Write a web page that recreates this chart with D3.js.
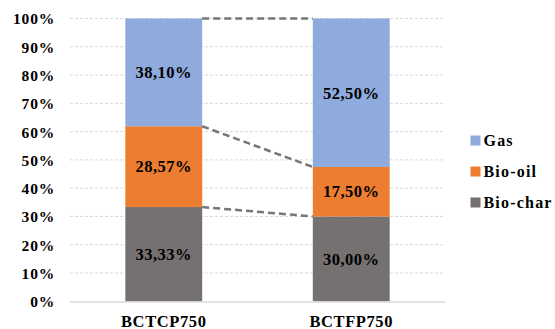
<!DOCTYPE html>
<html><head><meta charset="utf-8">
<script src="https://cdn.jsdelivr.net/npm/d3@7"></script>
<style>
html,body{margin:0;padding:0;background:#fff;}
svg{display:block;}
text{font-family:"Liberation Serif","Times New Roman",serif;font-weight:bold;fill:#000;}
</style></head>
<body><svg id="c" width="555" height="329"></svg>
<script>
const categories = ["BCTCP750", "BCTFP750"];
const seriesNames = ["Bio-char", "Bio-oil", "Gas"];
const bioChar = [33.33, 30.00];
const bioOil = [28.57, 17.50];
const gas = [38.10, 52.50];
const labels = { "Bio-char": ["33,33%", "30,00%"], "Bio-oil": ["28,57%", "17,50%"], "Gas": ["38,10%", "52,50%"] };
const yTicks = [0, 10, 20, 30, 40, 50, 60, 70, 80, 90, 100];
const colors = { "Gas": "#8FAADC", "Bio-oil": "#ED7D31", "Bio-char": "#767171" };

(function () {
const svg = d3.select("#c");
const mLeft = 70, mRight = 445, mTop = 18.5, mBottom = 301.3;
const x = d3.scaleBand().domain(categories).range([mLeft, mRight]).paddingInner(0.59).paddingOuter(0.295);
const y = d3.scaleLinear().domain([0, 100]).range([mBottom, mTop]);

// gridlines
svg.append("g").selectAll("line").data(yTicks.filter(d => d > 0)).join("line")
  .attr("x1", mLeft).attr("x2", mRight)
  .attr("y1", d => y(d)).attr("y2", d => y(d))
  .attr("stroke", "#d9d9d9").attr("stroke-width", 1).attr("stroke-dasharray", "3,2");

// y axis labels
const yAxis = d3.axisLeft(y).tickValues(yTicks).tickFormat(d => d + "%").tickSize(0).tickPadding(0);
const ga = svg.append("g").attr("transform", `translate(55,0)`).call(yAxis);
ga.attr("font-family", null).attr("font-size", null);
ga.select(".domain").remove();
ga.selectAll("text").attr("font-size", 15.5).style("letter-spacing", "0.8px")
  .attr("dy", "0.35em").attr("x", 0);

// stack
const rows = categories.map((c, i) => ({ cat: c, "Bio-char": bioChar[i], "Bio-oil": bioOil[i], "Gas": gas[i] }));
const stack = d3.stack().keys(seriesNames)(rows);

const gs = svg.append("g").selectAll("g").data(stack).join("g").attr("fill", d => colors[d.key]);
gs.selectAll("rect").data(d => d).join("rect")
  .attr("x", d => x(d.data.cat)).attr("width", x.bandwidth())
  .attr("y", d => y(d[1])).attr("height", d => y(d[0]) - y(d[1]));

// connectors
const lines = stack.map(s => ({ y1: s[0][1], y2: s[1][1] }));
svg.append("g").selectAll("line").data(lines).join("line")
  .attr("x1", x(categories[0]) + x.bandwidth()).attr("x2", x(categories[1]))
  .attr("y1", d => y(d.y1)).attr("y2", d => y(d.y2))
  .attr("stroke", "#767676").attr("stroke-width", 2.5).attr("stroke-dasharray", "7,4");

// data labels
stack.forEach(s => {
  svg.append("g").selectAll("text").data(s).join("text")
    .attr("x", d => x(d.data.cat) + x.bandwidth() / 2)
    .attr("y", d => (y(d[0]) + y(d[1])) / 2)
    .attr("dy", "0.35em").attr("text-anchor", "middle")
    .attr("font-size", 16.5).style("letter-spacing", "0.5px")
    .text((d, i) => labels[s.key][i]);
});

// x axis
svg.append("line").attr("x1", mLeft).attr("x2", mRight).attr("y1", 302).attr("y2", 302)
  .attr("stroke", "#d9d9d9").attr("stroke-width", 1.5);
const xAxis = d3.axisBottom(x).tickSize(0).tickPadding(0);
const gx = svg.append("g").attr("transform", "translate(0,326.5)").call(xAxis);
gx.attr("font-family", null).attr("font-size", null);
gx.select(".domain").remove();
gx.selectAll("text").attr("font-size", 16.5).style("letter-spacing", "0.6px").attr("dy", 0);

// legend
const legendItems = ["Gas", "Bio-oil", "Bio-char"];
const lg = svg.append("g").selectAll("g").data(legendItems).join("g")
  .attr("transform", (d, i) => `translate(470.5,${140.5 + i * 31})`);
lg.append("rect").attr("x", 0).attr("y", -5).attr("width", 10).attr("height", 10).attr("fill", d => colors[d]);
lg.append("text").attr("x", 13).attr("dy", "0.35em").attr("font-size", 16).style("letter-spacing", "1.2px").text(d => d);
})();
</script></body></html>
